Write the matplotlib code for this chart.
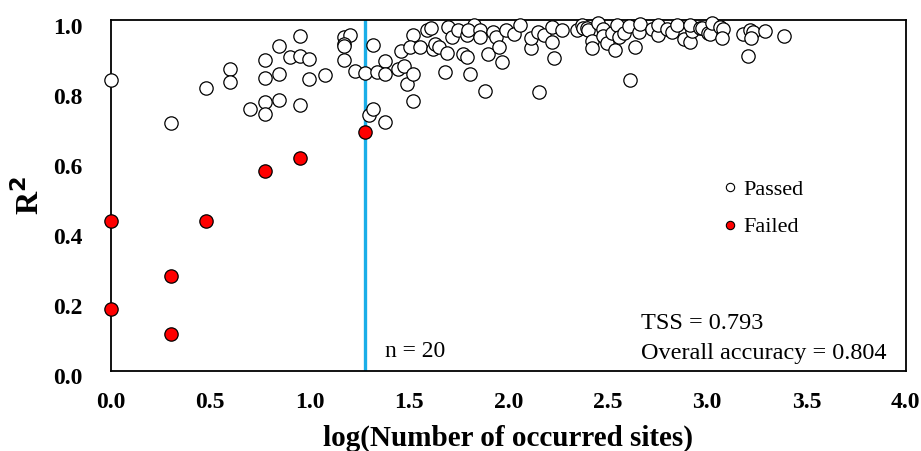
import numpy as np
import matplotlib
matplotlib.use('Agg')
import matplotlib.pyplot as plt
from matplotlib.lines import Line2D
from matplotlib.transforms import ScaledTranslation

# Points : log(nb de sites), R2
passed_x = [0.0, 0.301, 0.477, 0.602, 0.602, 0.699, 0.778, 0.778, 0.778, 0.778,
            0.845, 0.845, 0.845, 0.903, 0.954, 0.954, 0.954, 1.000, 1.000, 1.079,
            1.176, 1.204, 1.176, 1.176, 1.176, 1.230, 1.279, 1.322, 1.342, 1.380,
            1.380, 1.301, 1.322, 1.380, 1.447, 1.462, 1.477, 1.491, 1.519, 1.519,
            1.519, 1.505, 1.556, 1.591, 1.613, 1.623, 1.633, 1.653, 1.681, 1.690,
            1.699, 1.716, 1.748, 1.771, 1.792, 1.792, 1.806, 1.826, 1.800, 1.857,
            1.857, 1.881, 1.898, 1.924, 1.940, 1.954, 1.968, 1.991, 2.029, 2.057,
            2.117, 2.113, 2.155, 2.152, 2.179, 2.220, 2.220, 2.230, 2.270, 2.344,
            2.369, 2.378, 2.394, 2.403, 2.420, 2.420, 2.453, 2.476, 2.476, 2.496,
            2.520, 2.537, 2.549, 2.559, 2.584, 2.609, 2.613, 2.638, 2.660, 2.663,
            2.722, 2.756, 2.756, 2.797, 2.823, 2.848, 2.885, 2.915, 2.923, 2.915,
            2.965, 2.974, 3.007, 3.015, 3.024, 3.066, 3.079, 3.074, 3.180, 3.217,
            3.230, 3.220, 3.205, 3.292, 3.388]
passed_y = [0.829, 0.705, 0.807, 0.860, 0.824, 0.747, 0.886, 0.835, 0.767, 0.731,
            0.926, 0.846, 0.772, 0.894, 0.955, 0.897, 0.757, 0.888, 0.832, 0.842,
            0.951, 0.956, 0.931, 0.925, 0.886, 0.855, 0.848, 0.928, 0.852, 0.884,
            0.846, 0.729, 0.746, 0.710, 0.860, 0.912, 0.870, 0.818, 0.845, 0.769,
            0.957, 0.924, 0.922, 0.971, 0.976, 0.916, 0.931, 0.922, 0.853, 0.905,
            0.979, 0.951, 0.971, 0.902, 0.895, 0.957, 0.846, 0.986, 0.971, 0.971,
            0.951, 0.798, 0.903, 0.967, 0.951, 0.924, 0.879, 0.971, 0.960, 0.986,
            0.921, 0.950, 0.794, 0.967, 0.957, 0.979, 0.938, 0.891, 0.971, 0.971,
            0.986, 0.976, 0.976, 0.971, 0.940, 0.919, 0.991, 0.974, 0.955, 0.934,
            0.962, 0.914, 0.986, 0.952, 0.962, 0.984, 0.829, 0.924, 0.967, 0.988,
            0.974, 0.957, 0.986, 0.974, 0.965, 0.986, 0.946, 0.936, 0.969, 0.986,
            0.976, 0.976, 0.962, 0.960, 0.991, 0.981, 0.974, 0.948, 0.959, 0.971,
            0.967, 0.950, 0.898, 0.969, 0.955]

failed_x = [0.0, 0.0, 0.301, 0.301, 0.477, 0.778, 0.954, 1.279]
failed_y = [0.428, 0.176, 0.271, 0.104, 0.428, 0.570, 0.606, 0.681]

seuil = 1.28  # ligne verticale n = 20
xticks = [0.0, 0.5, 1.0, 1.5, 2.0, 2.5, 3.0, 3.5, 4.0]
yticks = [0.0, 0.2, 0.4, 0.6, 0.8, 1.0]

plt.rcParams['font.family'] = ['Liberation Serif', 'DejaVu Serif']

fig = plt.figure(figsize=(9.21, 4.51), dpi=100)
ax = fig.add_axes([0.1202, 0.178, 0.8632, 0.7777])

ax.axvline(seuil, color='#1AAEE8', lw=2.4, zorder=1)
ax.scatter(passed_x, passed_y, s=92, facecolor='white', edgecolor='black',
           linewidth=0.9, zorder=3, clip_on=False)
ax.scatter(failed_x, failed_y, s=92, facecolor='#FF0000', edgecolor='black',
           linewidth=0.9, zorder=3, clip_on=False)

ax.set_xlim(0, 4)
ax.set_ylim(0, 1)
ax.set_xticks(xticks)
ax.set_yticks(yticks)
ax.set_xticklabels([f'{t:.1f}' for t in xticks], fontweight='bold', fontsize=17)
ax.set_yticklabels([f'{t:.1f}' for t in yticks], fontweight='bold', fontsize=17)
ax.tick_params(axis='x', length=0, pad=15.5)
ax.tick_params(axis='y', length=0, pad=20)
# les etiquettes de l'axe y sont un peu plus bas que les graduations
decal = ScaledTranslation(0, -4 / 72, fig.dpi_scale_trans)
for lab in ax.get_yticklabels():
    lab.set_transform(lab.get_transform() + decal)
for s in ax.spines.values():
    s.set_linewidth(1.3)

ax.set_xlabel('log(Number of occurred sites)', fontweight='bold', fontsize=21, labelpad=8.5)
ax.set_ylabel('R$\\mathbf{^2}$', fontweight='bold', fontsize=23, labelpad=5)

# Legende
handles = [Line2D([], [], marker='o', ls='none', ms=6, mfc='white', mec='black', mew=0.8),
           Line2D([], [], marker='o', ls='none', ms=6, mfc='#FF0000', mec='black', mew=0.8)]
ax.legend(handles, ['Passed', 'Failed'], loc='upper left', bbox_to_anchor=(0.76, 0.57),
          frameon=False, fontsize=16, handlelength=0.6, handletextpad=0.3,
          labelspacing=0.75, borderaxespad=0)

ax.text(seuil + 0.1, 0.055, 'n = 20', fontsize=17, va='center')
ax.text(2.67, 0.135, 'TSS = 0.793', fontsize=17.5, va='center')
ax.text(2.67, 0.05, 'Overall accuracy = 0.804', fontsize=17.5, va='center')

plt.savefig('out.png', dpi=100)
